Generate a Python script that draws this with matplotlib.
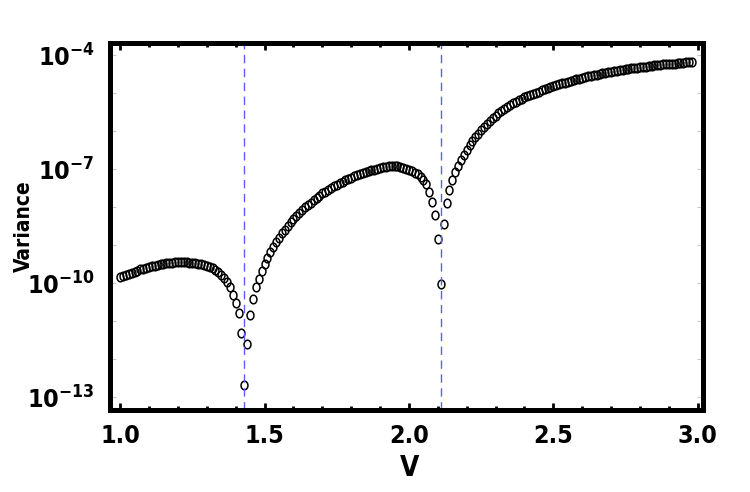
import numpy as np
import matplotlib.pyplot as plt
from matplotlib.path import Path
from matplotlib.ticker import FixedLocator, FixedFormatter, MultipleLocator, NullFormatter

v = np.linspace(1.00, 2.98, 199)
log_var = [
    -9.85, -9.82, -9.79, -9.76, -9.73, -9.70, -9.67, -9.64, -9.62, -9.60,
    -9.58, -9.56, -9.54, -9.52, -9.50, -9.49, -9.48, -9.47, -9.46, -9.45,
    -9.44, -9.44, -9.44, -9.45, -9.46, -9.47, -9.48, -9.49, -9.51, -9.53,
    -9.55, -9.58, -9.61, -9.65, -9.71, -9.79, -9.87, -9.97, -10.10, -10.32,
    -10.52, -10.80, -11.31, -12.67, -11.61, -10.84, -10.41, -10.10, -9.88, -9.69,
    -9.50, -9.33, -9.18, -9.04, -8.91, -8.80, -8.69, -8.59, -8.49, -8.40,
    -8.31, -8.23, -8.15, -8.08, -8.01, -7.94, -7.88, -7.82, -7.76, -7.70,
    -7.64, -7.59, -7.54, -7.49, -7.45, -7.41, -7.37, -7.33, -7.29, -7.26,
    -7.23, -7.19, -7.16, -7.13, -7.10, -7.08, -7.05, -7.03, -7.01, -6.99,
    -6.97, -6.95, -6.94, -6.93, -6.92, -6.92, -6.93, -6.94, -6.96, -6.99,
    -7.02, -7.05, -7.09, -7.14, -7.21, -7.29, -7.40, -7.60, -7.86, -8.21,
    -8.85, -10.03, -8.45, -7.89, -7.55, -7.29, -7.08, -6.92, -6.76, -6.62,
    -6.49, -6.37, -6.26, -6.16, -6.07, -5.98, -5.89, -5.80, -5.73, -5.66,
    -5.59, -5.53, -5.47, -5.42, -5.36, -5.31, -5.27, -5.23, -5.19, -5.15,
    -5.11, -5.08, -5.05, -5.02, -4.99, -4.96, -4.93, -4.90, -4.87, -4.84,
    -4.81, -4.79, -4.76, -4.74, -4.72, -4.70, -4.68, -4.66, -4.64, -4.62,
    -4.60, -4.58, -4.56, -4.54, -4.53, -4.51, -4.50, -4.48, -4.47, -4.45,
    -4.44, -4.42, -4.41, -4.40, -4.38, -4.37, -4.36, -4.35, -4.34, -4.33,
    -4.32, -4.31, -4.30, -4.29, -4.28, -4.27, -4.26, -4.25, -4.24, -4.24,
    -4.23, -4.22, -4.22, -4.21, -4.20, -4.20, -4.19, -4.18, -4.17,
]
singular_v = [1.428, 2.111]
ytick_exp = [-13, -10, -7, -4]
ytick_labels = [r'$10^{%d}$' % e for e in ytick_exp]

# the original uses a tall, narrow bold face
plt.rcParams['font.family'] = ['DejaVu Sans']
plt.rcParams['font.stretch'] = 'condensed'
plt.rcParams['font.weight'] = 'bold'
plt.rcParams['mathtext.fontset'] = 'custom'
narrow = 'DejaVu Sans:weight=bold:stretch=condensed'
plt.rcParams['mathtext.rm'] = narrow
plt.rcParams['mathtext.it'] = narrow
plt.rcParams['mathtext.bf'] = narrow

# slightly narrow open circle, like the squeezed original
theta = np.linspace(0, 2 * np.pi, 60)
ellipse = Path(np.column_stack([0.8 * np.cos(theta), np.sin(theta)]), closed=True)

fig = plt.figure(figsize=(7.5, 4.92), dpi=100)
ax = fig.add_axes([0.1467, 0.1667, 0.7906, 0.7459])

ax.plot(v, 10.0 ** np.array(log_var), ls='none', marker=ellipse, ms=6.2,
        mfc='none', mec='black', mew=1.1)
for xv in singular_v:
    ax.axvline(xv, color='#5c5cff', lw=1.0, dashes=(6, 4))

ax.set_yscale('log')
ax.set_xlim(0.965, 3.018)
ax.set_ylim(10 ** -13.34, 10 ** -3.68)

ax.yaxis.set_major_locator(FixedLocator([10.0 ** e for e in ytick_exp]))
ax.yaxis.set_major_formatter(FixedFormatter(ytick_labels))
ax.yaxis.set_minor_locator(FixedLocator([10.0 ** e for e in range(-13, -3)]))
ax.yaxis.set_minor_formatter(NullFormatter())
ax.xaxis.set_major_locator(MultipleLocator(0.5))
ax.xaxis.set_minor_locator(MultipleLocator(0.1))
ax.xaxis.set_major_formatter(lambda x, pos: '%.1f' % x)

ax.tick_params(axis='y', which='both', direction='in', length=4, width=0.8,
               color='#c8c8c8', left=True, right=True, labelsize=18, pad=11)
ax.tick_params(axis='x', which='major', direction='in', length=5, width=2,
               color='black', top=True, bottom=True, labelsize=18, pad=10)
ax.tick_params(axis='x', which='minor', direction='in', length=3, width=2,
               color='black', top=True, bottom=True)

for sp in ax.spines.values():
    sp.set_linewidth(3.6)

fig.text(410 / 750, 1 - 468 / 492, 'V', fontsize=20, ha='center', va='center')
fig.text(24 / 750, 1 - 226 / 492, 'Variance', fontsize=15, rotation=90,
         ha='center', va='center')

fig.savefig('out.png', dpi=100)
